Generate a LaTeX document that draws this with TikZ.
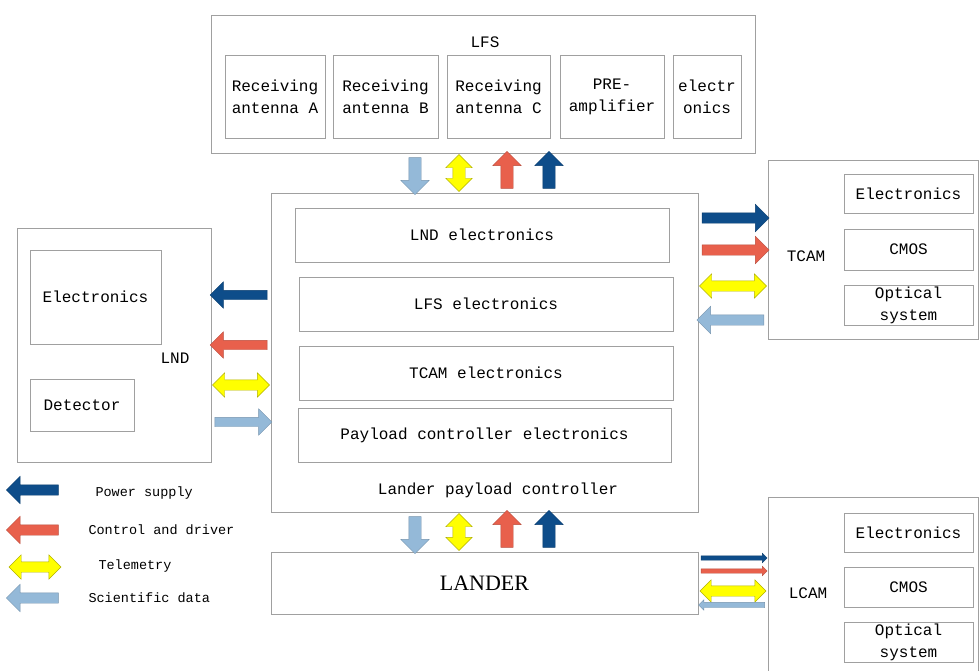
\documentclass[tikz,border=0pt]{standalone}
\usepackage{fontspec}
\setmainfont{Liberation Serif}
\newfontfamily\boxfont{Liberation Mono}
\usepackage{tikz}
\usetikzlibrary{shapes.arrows}
\definecolor{powerblue}{HTML}{0E4D8A}
\definecolor{controlred}{HTML}{E8604C}
\definecolor{telemyellow}{HTML}{FFFF00}
\definecolor{datablue}{HTML}{94B9D8}
\definecolor{boxgray}{HTML}{A0A0A0}

\begin{document}
\begin{tikzpicture}[x=1pt,y=-1pt]

\tikzset{
unitbox/.style={
draw=boxgray,
line width=0.8pt,
inner sep=0pt,
align=center,
font=\boxfont\fontsize{16}{22}\selectfont
},
unitlabel/.style={
align=center,
font=\boxfont\fontsize{16}{22}\selectfont
},
legendlabel/.style={
anchor=west,
font=\boxfont\fontsize{13.5}{16}\selectfont
},
onearrow/.style={
single arrow,
inner sep=6pt,
outer sep=0pt,
single arrow head extend=8,
line width=0.4pt
},
twoarrow/.style={
double arrow,
inner sep=6pt,
outer sep=0pt,
double arrow head extend=7,
line width=0.4pt
},
power/.style={fill=powerblue,draw=powerblue!80!black},
control/.style={fill=controlred,draw=controlred!80!black},
telem/.style={fill=telemyellow,draw=telemyellow!70!black},
data/.style={fill=datablue,draw=datablue!80!black}
}

\useasboundingbox (0,0) rectangle (979,671);
\clip (0,0) rectangle (979,671);

%--------------------------------------------------
% LFS
%--------------------------------------------------

\node[unitbox,minimum width=544,minimum height=138] (lfs) at (483,84) {};
\node[unitlabel] (lfslabel) at (485,42) {LFS};
\node[unitbox,minimum width=100,minimum height=83] (antA) at (275,96.5) {Receiving\\antenna A};
\node[unitbox,minimum width=105,minimum height=83] (antB) at (385.5,96.5) {Receiving\\antenna B};
\node[unitbox,minimum width=103,minimum height=83] (antC) at (498.5,96.5) {Receiving\\antenna C};
\node[unitbox,minimum width=104,minimum height=83] (preamp) at (612,96.5) {PRE-\\amplifier};
\node[unitbox,minimum width=68,minimum height=83] (lfselec) at (707,96.5) {electr\\onics};

%--------------------------------------------------
% LANDER PAYLOAD CONTROLLER
%--------------------------------------------------

\node[unitbox,minimum width=427,minimum height=319] (lpc) at (484.5,352.5) {};
\node[unitbox,minimum width=374,minimum height=54] (lndel) at (482,235) {LND electronics};
\node[unitbox,minimum width=374,minimum height=54] (lfsel) at (486,304) {LFS electronics};
\node[unitbox,minimum width=374,minimum height=54] (tcamel) at (486,373) {TCAM electronics};
\node[unitbox,minimum width=373,minimum height=54] (pcel) at (484.5,435) {Payload controller electronics};
\node[unitlabel] (lpclabel) at (498,490) {Lander payload controller};

%--------------------------------------------------
% LND
%--------------------------------------------------

\node[unitbox,minimum width=194,minimum height=234] (lnd) at (114,345) {};
\node[unitbox,minimum width=131,minimum height=94] (lndelec) at (95.5,297) {Electronics};
\node[unitbox,minimum width=104,minimum height=52] (detector) at (82,405) {Detector};
\node[unitlabel] (lndlabel) at (175,358) {LND};

%--------------------------------------------------
% TCAM
%--------------------------------------------------

\node[unitbox,minimum width=210.5,minimum height=179] (tcam) at (873.25,249.5) {};
\node[unitlabel] (tcamlabel) at (806,256) {TCAM};
\node[unitbox,minimum width=129,minimum height=39] (tcamelec) at (908.5,193.5) {Electronics};
\node[unitbox,minimum width=129,minimum height=41] (tcamcmos) at (908.5,249.5) {CMOS};
\node[unitbox,minimum width=129,minimum height=40] (tcamopt) at (908.5,305) {Optical\\system};

%--------------------------------------------------
% LCAM
%--------------------------------------------------

\node[unitbox,minimum width=210.5,minimum height=183] (lcam) at (873.25,588.5) {};
\node[unitlabel] (lcamlabel) at (808,593) {LCAM};
\node[unitbox,minimum width=129,minimum height=39] (lcamelec) at (908.5,532.5) {Electronics};
\node[unitbox,minimum width=129,minimum height=40] (lcamcmos) at (908.5,587) {CMOS};
\node[unitbox,minimum width=129,minimum height=40] (lcamopt) at (908.5,642) {Optical\\system};

%--------------------------------------------------
% LANDER
%--------------------------------------------------

\node[unitbox,minimum width=427,minimum height=62,font=\fontsize{22}{26}\selectfont] (lander) at (484.5,583) {LANDER};

%--------------------------------------------------
% ARROWS LFS <-> CONTROLLER
%--------------------------------------------------

\node[onearrow,data,shape border rotate=270,minimum height=37] (lfsdata) at (415,173) {};
\node[twoarrow,telem,shape border rotate=90,minimum height=37] (lfstelem) at (459,173) {};
\node[onearrow,control,shape border rotate=90,minimum height=37] (lfsctrl) at (507,173) {};
\node[onearrow,power,shape border rotate=90,minimum height=37] (lfspower) at (549,173) {};

%--------------------------------------------------
% ARROWS CONTROLLER <-> LANDER
%--------------------------------------------------

\node[onearrow,data,shape border rotate=270,minimum height=37] (landdata) at (415,532) {};
\node[twoarrow,telem,shape border rotate=90,minimum height=37] (landtelem) at (459,532) {};
\node[onearrow,control,shape border rotate=90,minimum height=37] (landctrl) at (507,532) {};
\node[onearrow,power,shape border rotate=90,minimum height=37] (landpower) at (549,532) {};

%--------------------------------------------------
% ARROWS LND <-> CONTROLLER
%--------------------------------------------------

\node[onearrow,power,shape border rotate=180,minimum height=57,inner sep=4.5pt,single arrow head extend=8.5] (lndpower) at (241,295) {};
\node[onearrow,control,shape border rotate=180,minimum height=57,inner sep=4.5pt,single arrow head extend=8.5] (lndctrl) at (241,345) {};
\node[twoarrow,telem,minimum height=57,inner sep=5pt,double arrow head extend=7] (lndtelem) at (241,385) {};
\node[onearrow,data,minimum height=57,inner sep=4.5pt,single arrow head extend=8.5] (lnddata) at (241,422) {};

%--------------------------------------------------
% ARROWS CONTROLLER <-> TCAM
%--------------------------------------------------

\node[onearrow,power,minimum height=67,inner sep=5pt,single arrow head extend=8.5] (tcampower) at (733,218) {};
\node[onearrow,control,minimum height=67,inner sep=5pt,single arrow head extend=8.5] (tcamctrl) at (733,250) {};
\node[twoarrow,telem,minimum height=67,inner sep=5pt,double arrow head extend=7] (tcamtelem) at (733,286) {};
\node[onearrow,data,shape border rotate=180,minimum height=67,inner sep=5pt,single arrow head extend=8.5] (tcamdata) at (733,320) {};

%--------------------------------------------------
% ARROWS LANDER <-> LCAM
%--------------------------------------------------

\node[onearrow,power,minimum height=66,inner sep=2pt,single arrow head extend=2.5] (lcampower) at (733,558) {};
\node[onearrow,control,minimum height=66,inner sep=2pt,single arrow head extend=2.5] (lcamctrl) at (733,571) {};
\node[twoarrow,telem,minimum height=66,inner sep=5pt,double arrow head extend=6] (lcamtelem) at (733,591) {};
\node[onearrow,data,shape border rotate=180,minimum height=66,inner sep=2.5pt,single arrow head extend=2.5] (lcamdata) at (733,605) {};

%--------------------------------------------------
% LEGEND
%--------------------------------------------------

\node[onearrow,power,shape border rotate=180,minimum height=52,inner sep=5pt,single arrow head extend=8.5] (legpower) at (35,490) {};
\node[onearrow,control,shape border rotate=180,minimum height=52,inner sep=5pt,single arrow head extend=8.5] (legctrl) at (35,530) {};
\node[twoarrow,telem,minimum height=52,inner sep=5pt,double arrow head extend=7] (legtelem) at (35,567) {};
\node[onearrow,data,shape border rotate=180,minimum height=52,inner sep=5pt,single arrow head extend=8.5] (legdata) at (35,598) {};

\node[legendlabel] at (92,493) {Power supply};
\node[legendlabel] at (85,530) {Control and driver};
\node[legendlabel] at (95,566) {Telemetry};
\node[legendlabel] at (85,598) {Scientific data};

\end{tikzpicture}
\end{document}
